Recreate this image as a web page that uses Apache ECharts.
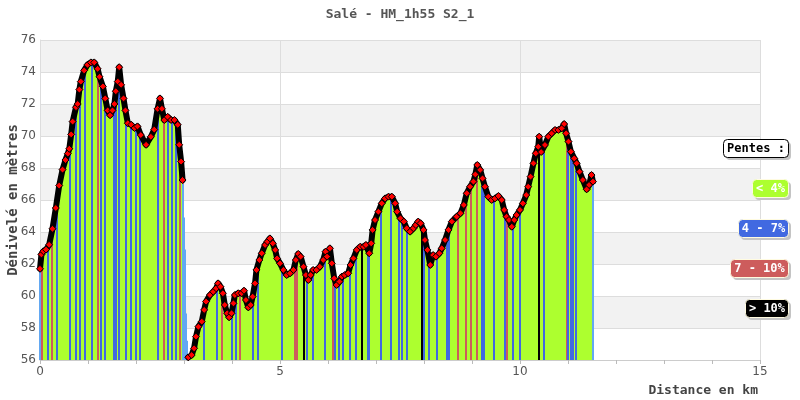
<!DOCTYPE html>
<html>
<head>
<meta charset="utf-8">
<script src="https://cdn.jsdelivr.net/npm/echarts@6/dist/echarts.min.js"></script>
<style>
html,body{margin:0;padding:0;background:#fff;}
#chart{width:800px;height:400px;}
</style>
</head>
<body>
<div id="chart"></div>
<script>
// ---------- data ----------
const titleText = 'Salé - HM_1h55 S2_1';
const xName = 'Distance en km';
const yName = 'Dénivelé en mètres';
const xMin = 0, xMax = 15, xInterval = 5;
const yMin = 56, yMax = 76, yInterval = 2;

// first climb section (km, m)
const segAKm = [0.00,0.03,0.07,0.125,0.19,0.26,0.33,0.40,0.47,0.53,0.58,0.61,0.65,0.68,0.75,0.785,0.82,0.85,0.92,0.99,1.06,1.13,1.20,1.24,1.31,1.36,1.41,1.46,1.51,1.55,1.58,1.62,1.65,1.69,1.74,1.78,1.83,1.90,1.97,2.03,2.10,2.21,2.31,2.38,2.45,2.50,2.54,2.59,2.66,2.73,2.80,2.87,2.90,2.94,2.97];
const segAAlt = [61.7,62.6,62.8,62.9,63.2,64.2,65.5,66.9,67.9,68.5,68.9,69.2,70.1,70.9,71.8,72.0,72.9,73.4,74.1,74.45,74.6,74.6,74.2,73.7,73.1,72.35,71.6,71.3,71.6,72.0,72.8,73.4,74.3,73.2,72.35,71.6,70.8,70.7,70.5,70.6,70.06,69.45,69.95,70.4,71.7,72.35,71.7,71.0,71.2,71.0,71.0,70.7,69.45,68.4,67.25];

// steep drop without markers
const dropKm = [2.985,3.00,3.015,3.03,3.045,3.06];
const dropAlt = [67.0,64.9,62.9,61.2,58.9,57.2];

// rest of the course
const segBKm = [3.09,3.16,3.21,3.25,3.30,3.37,3.42,3.46,3.54,3.61,3.67,3.71,3.76,3.81,3.85,3.90,3.94,3.99,4.03,4.06,4.13,4.20,4.25,4.29,4.34,4.39,4.43,4.48,4.51,4.57,4.62,4.69,4.74,4.79,4.85,4.90,4.94,5.00,5.07,5.14,5.21,5.28,5.33,5.38,5.43,5.49,5.54,5.59,5.64,5.69,5.76,5.83,5.90,5.95,5.98,6.04,6.08,6.13,6.18,6.24,6.29,6.35,6.42,6.47,6.53,6.60,6.67,6.74,6.79,6.86,6.90,6.93,6.98,7.05,7.12,7.19,7.26,7.33,7.40,7.44,7.51,7.58,7.64,7.71,7.78,7.83,7.88,7.93,7.99,8.02,8.07,8.13,8.19,8.25,8.32,8.37,8.44,8.51,8.58,8.68,8.76,8.83,8.89,8.96,9.03,9.07,9.11,9.17,9.22,9.27,9.34,9.41,9.48,9.55,9.62,9.67,9.72,9.77,9.83,9.88,9.93,10.00,10.06,10.13,10.17,10.22,10.28,10.33,10.38,10.40,10.44,10.52,10.59,10.66,10.73,10.80,10.87,10.92,10.96,11.01,11.06,11.13,11.18,11.24,11.31,11.39,11.44,11.49,11.52];
const segBAlt = [56.17,56.31,56.73,57.46,58.08,58.4,59.13,59.65,60.06,60.27,60.48,60.79,60.58,60.17,59.44,58.92,58.67,58.92,59.54,60.06,60.17,60.17,60.33,59.75,59.29,59.44,59.96,60.79,61.63,62.25,62.67,63.19,63.4,63.6,63.29,62.88,62.35,62.04,61.63,61.31,61.42,61.63,62.25,62.63,62.46,61.83,61.31,61.0,61.31,61.63,61.63,61.83,62.25,62.77,62.46,62.98,62.04,61.1,60.69,60.9,61.21,61.31,61.42,61.94,62.35,62.88,63.08,63.08,63.19,62.67,63.29,64.13,64.75,65.27,65.79,66.1,66.21,66.21,65.79,65.27,64.85,64.65,64.23,64.02,64.23,64.44,64.65,64.54,64.13,63.5,62.88,61.94,62.56,62.46,62.67,62.98,63.5,64.13,64.65,64.96,65.17,65.69,66.42,66.83,67.15,67.6,68.19,67.88,67.35,66.83,66.21,66.0,66.1,66.25,66.0,65.38,64.96,64.75,64.33,64.75,65.06,65.38,65.79,66.31,66.83,67.46,68.29,68.92,69.33,69.96,69.0,69.44,69.96,70.17,70.38,70.38,70.48,70.75,70.17,69.65,69.02,68.6,68.29,67.77,67.25,66.67,66.94,67.56,67.15];

// slope marks: km position and class (1: 4-7%, 2: 7-10%, 3: >10%, 4: pause/other)
const markKm = [0.0,0.048,0.173,0.26,0.348,0.625,0.75,0.833,0.9375,1.073,1.202,1.281,1.348,1.548,1.583,1.642,1.798,1.902,2.0,2.083,2.448,2.59,2.677,2.754,2.84,2.917,2.973,2.985,3.00,3.015,3.03,3.045,3.06,3.417,3.6875,3.802,4.006,4.083,4.167,4.444,4.548,5.052,5.3125,5.333,5.354,5.504,5.556,5.681,5.9375,6.104,6.14,6.219,6.306,6.458,6.573,6.702,6.823,6.86,7.104,7.306,7.485,7.535,7.652,7.952,8.0,8.11,8.277,8.473,8.527,8.715,8.881,8.969,9.11,9.202,9.256,9.465,9.6875,9.725,9.86,10.0,10.402,10.506,10.969,11.0,11.069,11.11,11.16,11.515];
const markClass = [4,2,1,2,1,1,1,1,1,1,2,1,1,1,1,1,1,1,1,1,1,2,1,1,1,2,2,4,4,4,4,4,4,1,1,2,1,1,2,1,1,1,2,2,2,3,1,1,1,2,1,1,1,1,1,3,1,1,1,1,1,1,1,3,1,1,1,1,1,2,2,2,2,1,1,1,1,2,1,1,3,1,2,1,1,1,1,4];

const legendTitle = 'Pentes :';
const legendLabels = ['< 4%', '4 - 7%', '7 - 10%', '> 10%'];

// ---------- styles ----------
const fillGreen = '#adff2f';
const classColors = ['#adff2f', '#4169e1', '#cd5c5c', '#000000', '#62a8f2'];
const legendColors = ['#adff2f', '#4169e1', '#cd5c5c', '#000000'];
const monoFont = '"DejaVu Sans Mono", monospace';

// ---------- build ----------
const allKm = segAKm.concat(dropKm, segBKm);
const allAlt = segAAlt.concat(dropAlt, segBAlt);
const areaData = allKm.map((k, i) => [k, allAlt[i]]);
const markerData = segAKm.map((k, i) => [k, segAAlt[i]])
  .concat([[null, null]])
  .concat(segBKm.map((k, i) => [k, segBAlt[i]]));

function altAt(km) {
  if (km <= allKm[0]) return allAlt[0];
  for (let i = 1; i < allKm.length; i++) {
    if (km <= allKm[i]) {
      const t = (km - allKm[i - 1]) / (allKm[i] - allKm[i - 1]);
      return allAlt[i - 1] + t * (allAlt[i] - allAlt[i - 1]);
    }
  }
  return allAlt[allAlt.length - 1];
}
const barData = markKm.map((k, i) => [k, altAt(k), markClass[i]]);

// legend graphic
const ctx = document.createElement('canvas').getContext('2d');
ctx.font = 'bold 12px ' + monoFont;
const legendItems = [{t: legendTitle, bg: '#ffffff', fg: '#000000', bd: '#000000'}]
  .concat(legendLabels.map((t, i) => ({t: t, bg: legendColors[i], fg: '#ffffff', bd: '#fffbe0'})));
const graphics = [];
const rightEdge = 788, boxH = 18;
legendItems.forEach((it, i) => {
  const w = Math.round(ctx.measureText(it.t).width + 7);
  const x = rightEdge - w;
  const yc = 148 + i * 40;
  const y = Math.round(yc - boxH / 2);
  graphics.push({type: 'rect', silent: true, shape: {x: x + 3, y: y + 3, width: w, height: boxH, r: 4}, style: {fill: '#c4c4c4'}, z: 10});
  graphics.push({type: 'rect', silent: true, shape: {x: x + 0.5, y: y + 0.5, width: w, height: boxH, r: 4}, style: {fill: it.bg, stroke: it.bd, lineWidth: 1}, z: 11});
  graphics.push({type: 'text', silent: true, x: x + w / 2 + 0.5, y: y + boxH / 2 + 1, style: {text: it.t, fill: it.fg, font: 'bold 12px ' + monoFont, align: 'center', verticalAlign: 'middle'}, z: 12});
});

const chart = echarts.init(document.getElementById('chart'), null, {renderer: 'canvas'});
chart.setOption({
  animation: false,
  backgroundColor: '#ffffff',
  title: {
    text: titleText, left: 'center', top: 3,
    textStyle: {fontFamily: monoFont, fontSize: 13, fontWeight: 'bold', color: '#555555'}
  },
  grid: {left: 40, right: 40, top: 40, bottom: 40, containLabel: false, outerBoundsMode: 'none'},
  xAxis: {
    type: 'value', min: xMin, max: xMax, interval: xInterval,
    name: xName, nameLocation: 'end', nameGap: -2, nameMoveOverlap: false,
    nameTextStyle: {fontFamily: monoFont, fontSize: 13, fontWeight: 'bold', color: '#444444', align: 'right', verticalAlign: 'top', padding: [24, 0, 0, 0]},
    axisLine: {show: true, lineStyle: {color: '#cccccc'}},
    axisTick: {show: true, length: 4, lineStyle: {color: '#bbbbbb'}},
    minorTick: {show: true, splitNumber: 5, length: 4, lineStyle: {color: '#bbbbbb'}},
    splitLine: {show: true, lineStyle: {color: '#dddddd'}},
    axisLabel: {color: '#555555', fontFamily: 'DejaVu Sans', fontSize: 12, margin: 6}
  },
  yAxis: {
    type: 'value', min: yMin, max: yMax, interval: yInterval,
    name: yName, nameLocation: 'middle', nameGap: 20, nameMoveOverlap: false,
    nameTextStyle: {fontFamily: monoFont, fontSize: 14, fontWeight: 'bold', color: '#444444'},
    axisLine: {show: true, lineStyle: {color: '#dddddd'}},
    axisTick: {show: false},
    splitLine: {show: true, lineStyle: {color: '#dddddd'}},
    splitArea: {show: true, areaStyle: {color: ['#ffffff', '#f2f2f2']}},
    axisLabel: {color: '#555555', fontFamily: 'DejaVu Sans', fontSize: 12, margin: 4}
  },
  graphic: graphics,
  series: [
    {
      type: 'line', data: areaData, z: 1, silent: true,
      showSymbol: false, lineStyle: {width: 0},
      areaStyle: {color: fillGreen, opacity: 1, origin: 'start'}
    },
    {
      type: 'custom', data: barData, z: 2, silent: true,
      encode: {x: 0, y: 1},
      renderItem: function (params, api) {
        const top = api.coord([api.value(0), api.value(1)]);
        const bot = api.coord([api.value(0), yMin]);
        return {
          type: 'rect',
          shape: {x: Math.round(top[0]) - 1, y: top[1], width: 2, height: bot[1] - top[1]},
          style: {fill: classColors[api.value(2)]}
        };
      }
    },
    {
      type: 'line', data: markerData, z: 3, silent: true,
      connectNulls: false,
      showSymbol: true, showAllSymbol: true,
      symbol: 'diamond', symbolSize: 7,
      lineStyle: {width: 6, color: '#000000', cap: 'round', join: 'round'},
      itemStyle: {color: '#ff0000', borderColor: '#000000', borderWidth: 1}
    }
  ]
});
</script>
</body>
</html>
